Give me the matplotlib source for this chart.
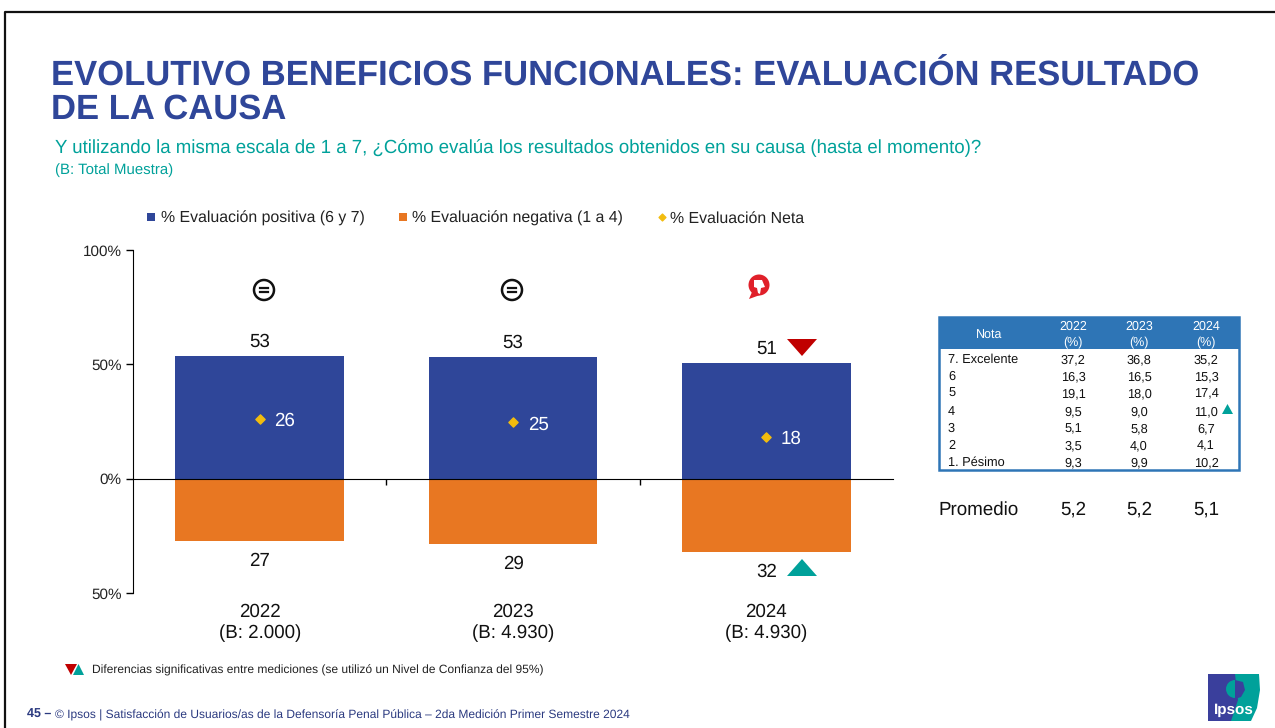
import matplotlib
matplotlib.use('Agg')
from matplotlib import pyplot as plt
from matplotlib.patches import Circle, Polygon, Rectangle

plt.rcParams['font.family'] = ['Liberation Sans', 'DejaVu Sans']
plt.rcParams['text.hinting'] = 'no_hinting'

# chart data
years = ['2022\n(B: 2.000)', '2023\n(B: 4.930)', '2024\n(B: 4.930)']
positive = [53.5, 53.3, 50.5]
negative = [27.4, 28.7, 32.0]
net = [26, 24.6, 18.4]
positive_labels = ['53', '53', '51']
negative_labels = ['27', '29', '32']
net_labels = ['26', '25', '18']

# table data
notes = ['7. Excelente', '6', '5', '4', '3', '2', '1. Pésimo']
table_2022 = ['37,2', '16,3', '19,1', '9,5', '5,1', '3,5', '9,3']
table_2023 = ['36,8', '16,5', '18,0', '9,0', '5,8', '4,0', '9,9']
table_2024 = ['35,2', '15,3', '17,4', '11,0', '6,7', '4,1', '10,2']
averages = ['5,2', '5,2', '5,1']

BLUE = '#2F4699'
ORANGE = '#E87722'
YELLOW = '#F2BC0F'
TITLE = '#2F4699'
TEAL = '#00A19A'
RED = '#C00000'
HEADER = '#2E75B6'
NAVY = '#2B3A80'
W, H = 1275, 728

fig = plt.figure(figsize=(W / 100, H / 100), dpi=100)

# pixel overlay for everything that is not the chart itself
page = fig.add_axes([0, 0, 1, 1])
page.set_xlim(0, W)
page.set_ylim(H, 0)
page.axis('off')

# slide frame
page.plot([5, 5, W], [H, 12, 12], color='#111111', lw=1.6)

# header
page.text(51, 85, 'EVOLUTIVO BENEFICIOS FUNCIONALES: EVALUACIÓN RESULTADO',
          color=TITLE, fontsize=24.9, fontweight='bold', va='baseline')
page.text(51, 119, 'DE LA CAUSA', color=TITLE, fontsize=24.9,
          fontweight='bold', va='baseline')
page.text(55, 153, 'Y utilizando la misma escala de 1 a 7, ¿Cómo evalúa los resultados '
          'obtenidos en su causa (hasta el momento)?', color=TEAL, fontsize=13.4, va='baseline')
page.text(55, 174, '(B: Total Muestra)', color=TEAL, fontsize=10.8, va='baseline')

# legend
page.add_patch(Rectangle((147, 213), 8, 8, color=BLUE, lw=0))
page.text(161, 222.5, '% Evaluación positiva (6 y 7)', fontsize=11.45, va='baseline', color='#222222')
page.add_patch(Rectangle((399, 213), 8, 8, color=ORANGE, lw=0))
page.text(412, 222.5, '% Evaluación negativa (1 a 4)', fontsize=11.45, va='baseline', color='#222222')
page.scatter([662], [217], marker='D', s=12, color=YELLOW)
page.text(670, 222.5, '% Evaluación Neta', fontsize=11.45, va='baseline', color='#222222')

# chart: 100% at y=250, 0% at y=479, -50% at y=593
ax = fig.add_axes([133 / W, 1 - 593 / H, 760 / W, 343 / H])
ax.patch.set_alpha(0)
xs = range(len(years))
ax.bar(xs, positive, width=0.665, color=BLUE)
ax.bar(xs, [-v for v in negative], width=0.665, color=ORANGE)
ax.scatter(xs, net, marker='D', s=22, color=YELLOW, zorder=3)
ax.set_xlim(-0.5, 2.5)
ax.set_ylim(-50, 100)
ax.set_yticks([-50, 0, 50, 100])
ax.set_yticklabels(['50%', '0%', '50%', '100%'], fontsize=11, color='#222222')
ax.tick_params(axis='y', length=5, width=1, pad=3)
for name in ['top', 'right']:
    ax.spines[name].set_visible(False)
ax.spines['bottom'].set_position(('data', 0))
ax.set_xticks([0.5, 1.5])
ax.set_xticklabels([])
ax.tick_params(axis='x', length=4, width=1, direction='out')

for i in xs:
    ax.annotate(positive_labels[i], (i, positive[i]), xytext=(0, 6.5), textcoords='offset points',
                ha='center', va='baseline', fontsize=13.5, color='#111111')
    ax.annotate(negative_labels[i], (i, -negative[i]), xytext=(0, -18), textcoords='offset points',
                ha='center', va='baseline', fontsize=13.5, color='#111111')
    ax.annotate(net_labels[i], (i, net[i]), xytext=(18, -5), textcoords='offset points',
                ha='center', va='baseline', fontsize=13.5, color='white')
    ax.annotate(years[i], (i, -50), xytext=(0, -7), textcoords='offset points',
                ha='center', va='top', fontsize=13.5, color='#111111', linespacing=1.3,
                annotation_clip=False)

# significance arrows beside the 2024 labels
page.add_patch(Polygon([(787, 339), (817, 339), (802, 356)], color=RED, lw=0, zorder=5))
page.add_patch(Polygon([(787, 576), (817, 576), (802, 559)], color=TEAL, lw=0, zorder=5))


# equal sign icons
def equal_icon(x, y):
    page.add_patch(Circle((x, y), 10, fill=False, ec='#111111', lw=1.8))
    page.plot([x - 4, x + 4], [y - 2, y - 2], color='#111111', lw=1.6)
    page.plot([x - 4, x + 4], [y + 2, y + 2], color='#111111', lw=1.6)


equal_icon(264, 290)
equal_icon(512, 290)

# thumbs down icon
page.add_patch(Circle((759, 285), 10.5, color='#E0202A', lw=0))
page.add_patch(Polygon([(752, 292), (749, 299), (760, 295)], color='#E0202A', lw=0))
page.add_patch(Polygon([(754, 280), (762, 280), (765, 287), (761, 288), (760, 294),
                        (758, 293), (757, 288), (754, 287)], color='white', lw=0))

# table
page.add_patch(Rectangle((939, 317), 300, 32, color=HEADER, lw=0))
page.add_patch(Rectangle((939, 317), 300, 153, fill=False, ec=HEADER, lw=1.8))
page.text(989, 339, 'Nota', color='white', fontsize=9, ha='center', va='baseline')
col_x = [1073, 1139, 1206]
col_years = ['2022', '2023', '2024']
for x, y in zip(col_x, col_years):
    page.text(x, 330, y, color='white', fontsize=9, ha='center', va='baseline')
    page.text(x, 346, '(%)', color='white', fontsize=9, ha='center', va='baseline')
row_y = [363, 380, 397, 415, 432, 449, 466]
for i, y in enumerate(row_y):
    page.text(948, y, notes[i], fontsize=9.2, va='baseline', color='#111111')
    page.text(col_x[0], y, table_2022[i], fontsize=9.2, ha='center', va='baseline', color='#111111')
    page.text(col_x[1], y, table_2023[i], fontsize=9.2, ha='center', va='baseline', color='#111111')
    page.text(col_x[2], y, table_2024[i], fontsize=9.2, ha='center', va='baseline', color='#111111')
page.add_patch(Polygon([(1222, 414), (1233, 414), (1227.5, 404)], color=TEAL, lw=0))

page.text(938, 515, 'Promedio', fontsize=13.5, va='baseline', color='#111111')
for x, v in zip(col_x, averages):
    page.text(x, 515, v, fontsize=13.5, ha='center', va='baseline', color='#111111')

# footnote and footer
page.add_patch(Polygon([(65, 664), (77, 664), (71, 675)], color=RED, lw=0))
page.add_patch(Polygon([(73, 675), (84, 675), (78.5, 664)], color=TEAL, lw=0))
page.text(92, 674, 'Diferencias significativas entre mediciones (se utilizó un Nivel de Confianza del 95%)',
          fontsize=8.65, va='baseline', color='#222222')
page.text(27, 718, '45 –', fontsize=9, fontweight='bold', va='baseline', color=NAVY)
page.text(55, 718, '© Ipsos | Satisfacción de Usuarios/as de la Defensoría Penal Pública – '
          '2da Medición Primer Semestre 2024', fontsize=8.65, va='baseline', color=NAVY)

# logo
page.add_patch(Rectangle((1208, 674), 30, 47, color='#3A3F9C', lw=0))
page.add_patch(Polygon([(1235, 674), (1259, 674), (1260, 690), (1257, 708), (1251, 721),
                        (1231, 721), (1238, 700)], color=TEAL, lw=0))
page.add_patch(Circle((1235, 689), 9, color=TEAL, lw=0))
page.add_patch(Polygon([(1235, 680), (1243, 682), (1245, 690), (1241, 697), (1235, 699)],
                       color='#3A3F9C', lw=0))
page.text(1234, 714, 'Ipsos', color='white', fontsize=11, fontweight='bold', ha='center', va='baseline')

fig.savefig('out.png', dpi=100)
